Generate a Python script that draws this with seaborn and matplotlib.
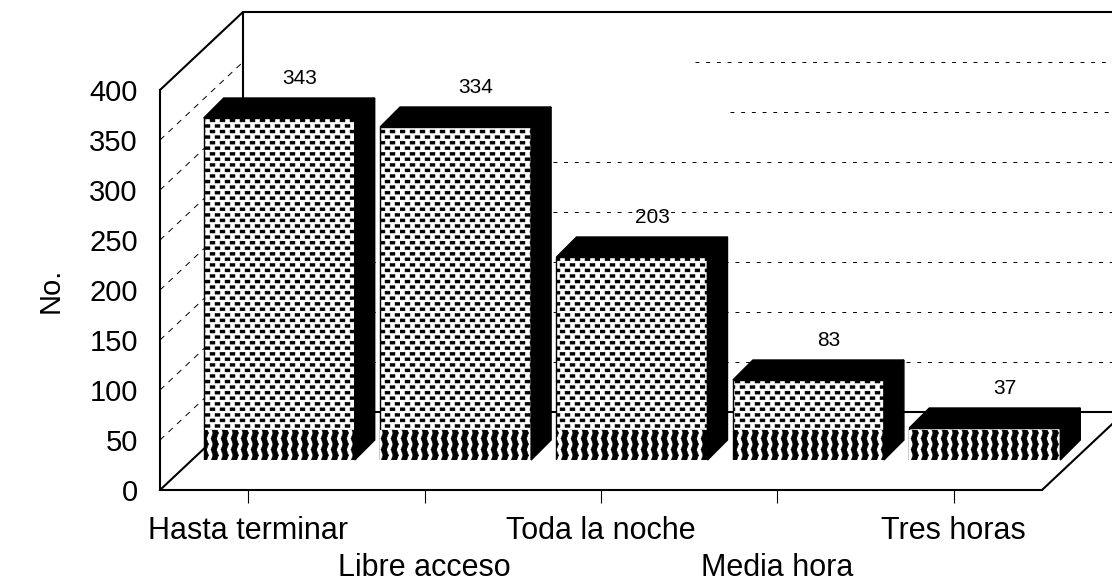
import numpy as np
import matplotlib
matplotlib.use('Agg')
import matplotlib.hatch as mhatch
import matplotlib.pyplot as plt
from matplotlib.path import Path
from matplotlib.patches import Polygon
import seaborn as sns

categories = ['Hasta terminar', 'Libre acceso', 'Toda la noche', 'Media hora', 'Tres horas']
printed_values = [343, 334, 203, 83, 37]
# heights as measured on the picture, the printed labels run a little higher on small bars
bar_heights = [342, 333, 203, 80, 32]
dark_band = 30
y_ticks = [0, 50, 100, 150, 200, 250, 300, 350, 400]
# the scan lost the left part of the two upper grid lines (x pixel where they start)
grid_start_px = {350: 695, 300: 730, 250: 553, 200: 553}


class DashRows(mhatch.HatchPatternBase):
    # staggered rows of short dashes, like the stipple in the original
    rows = 18
    cols = 10

    def __init__(self, hatch, density):
        self.level = hatch.count('*')
        self.num_vertices = self.rows * self.cols * 5 if self.level else 0

    def set_vertices_and_codes(self, vertices, codes):
        step = 1 / self.cols
        k = 0
        for r in range(self.rows):
            y = r / self.rows + 0.003
            for c in range(self.cols):
                if self.level == 1:
                    # plain stipple
                    x = c * step + (r % 2) * step / 2
                    pts = [(x, y), (x + 0.05, y), (x + 0.05, y + 0.03), (x, y + 0.03), (x, y)]
                else:
                    # lower band: dashes join into wavy upright strokes
                    x = c * step + 0.01
                    lean = 0.02 if r % 2 else -0.02
                    base = x + (0.02 if r % 2 == 0 else 0)
                    pts = [(base, y), (base + 0.055, y), (base + 0.055 + lean, y + 0.056), (base + lean, y + 0.056), (base, y)]
                vertices[k:k + 5] = pts
                codes[k:k + 5] = [Path.MOVETO, Path.LINETO, Path.LINETO, Path.LINETO, Path.CLOSEPOLY]
                k += 5


mhatch._hatch_types[:] = [DashRows]

sns.set_style('white')
plt.rcParams['font.family'] = ['Liberation Sans', 'DejaVu Sans']
plt.rcParams['hatch.linewidth'] = 0.3
plt.rcParams['text.color'] = 'black'
plt.rcParams['axes.labelcolor'] = 'black'
plt.rcParams['xtick.color'] = 'black'
plt.rcParams['ytick.color'] = 'black'

W, H = 1112, 582
fig = plt.figure(figsize=(W / 100, H / 100), dpi=100)


def px_axes(left, right, bottom, top):
    return fig.add_axes([left / W, 1 - bottom / H, (right - left) / W, (bottom - top) / H])


# front plane holds the axes, bars sit 31 px right and 30 px up from it
slot = 176.4
ax = px_axes(160, 160 + 5 * slot, 490, 90)
ax_bars = px_axes(191, 191 + 5 * slot, 460, 60)
ax_bars.patch.set_alpha(0)

x_pos = np.arange(len(categories))
ax.set_xlim(-0.5, 4.5)
ax.set_ylim(0, 400)
ax.set_xticks(x_pos)
ax.set_xticklabels([c if i % 2 == 0 else '\n' + c for i, c in enumerate(categories)], fontsize=22, linespacing=1.3)
ax.set_yticks(y_ticks)
ax.tick_params(axis='y', length=0, labelsize=21, pad=16)
ax.tick_params(axis='x', length=9.5, width=0.8, direction='out', bottom=True, pad=9.5)
ax.set_ylabel('No.', fontsize=21, labelpad=17.5)
sns.despine(ax=ax)
for s in ['left', 'bottom']:
    ax.spines[s].set_color('black')
    ax.spines[s].set_linewidth(1.5)

# walls of the 3d box, in the data units of the front plane
wall_dx = 83 / slot
wall_dy = 78
x_left = -0.5
x_right = 4.5
far = x_right + wall_dx
for v in y_ticks:
    solid = v in (0, 400)
    style = dict(color='black', clip_on=False, zorder=1)
    if solid:
        style.update(lw=1.5)
    else:
        style.update(lw=0.7)
    start = x_left + wall_dx
    if v in grid_start_px:
        start = (grid_start_px[v] - 160) / slot - 0.5
    if solid:
        ax.plot([x_left, x_left + wall_dx], [v, v + wall_dy], **style)
        ax.plot([start, far], [v + wall_dy, v + wall_dy], **style)
    else:
        ax.plot([x_left, x_left + wall_dx], [v, v + wall_dy], ls=(0, (6, 6)), **style)
        ax.plot([start, far], [v + wall_dy, v + wall_dy], ls=(0, (4, 7)), **style)
ax.plot([x_left + wall_dx, x_left + wall_dx], [wall_dy, 400 + wall_dy], color='black', lw=1.5, clip_on=False, zorder=1)
ax.plot([x_right, far], [0, wall_dy], color='black', lw=1.5, clip_on=False, zorder=1)

# bars
bar_w = 151 / slot
sns.barplot(x=categories, y=bar_heights, order=categories, ax=ax_bars, color='white', saturation=1,
            width=bar_w, edgecolor='black', linewidth=1, hatch='*')
sns.barplot(x=categories, y=np.minimum(bar_heights, dark_band), order=categories, ax=ax_bars, color='white',
            saturation=1, width=bar_w, edgecolor='black', linewidth=0, hatch='**')
ax_bars.set_xlim(-0.5, 4.5)
ax_bars.set_ylim(0, 400)
ax_bars.axis('off')

depth_x = 20 / slot
depth_y = 20
for i, h in enumerate(bar_heights):
    l, r = i - bar_w / 2, i + bar_w / 2
    top = [(l, h), (r, h), (r + depth_x, h + depth_y), (l + depth_x, h + depth_y)]
    side = [(r, 0), (r + depth_x, depth_y), (r + depth_x, h + depth_y), (r, h)]
    for pts in (top, side):
        ax_bars.add_patch(Polygon(pts, closed=True, fc='black', ec='black', lw=1, clip_on=False, zorder=5))
    ax_bars.text(i + depth_x, h + depth_y + 19.5, str(printed_values[i]), ha='center', va='center', fontsize=15, clip_on=False)

fig.savefig('out.png', dpi=100)
